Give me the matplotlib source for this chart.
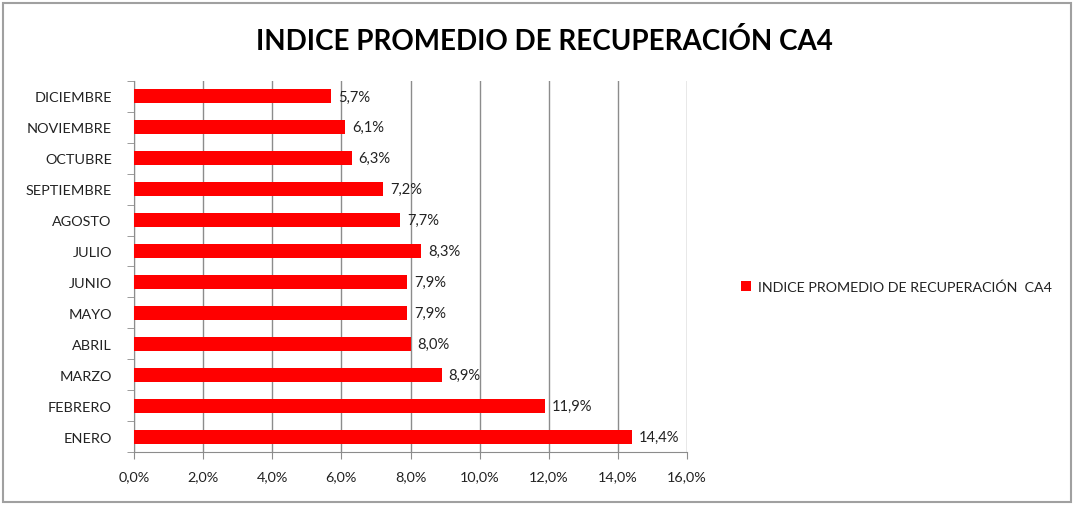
import matplotlib.pyplot as plt
from matplotlib.patches import Rectangle
from matplotlib.ticker import FuncFormatter

months = ['ENERO', 'FEBRERO', 'MARZO', 'ABRIL', 'MAYO', 'JUNIO', 'JULIO',
          'AGOSTO', 'SEPTIEMBRE', 'OCTUBRE', 'NOVIEMBRE', 'DICIEMBRE']
values = [14.4, 11.9, 8.9, 8.0, 7.9, 7.9, 8.3, 7.7, 7.2, 6.3, 6.1, 5.7]
series_name = 'INDICE PROMEDIO DE RECUPERACIÓN  CA4'
title = 'INDICE PROMEDIO DE RECUPERACIÓN CA4'

plt.rcParams['font.family'] = ['Lato', 'DejaVu Sans']

fig = plt.figure(figsize=(10.74, 5.06), dpi=100)
ax = fig.add_axes([0.1248, 0.1047, 0.5149, 0.7333])

bars = ax.barh(range(len(months)), values, height=0.45, color='#ff0000',
               label=series_name, zorder=3)
ax.set_yticks(range(len(months)))
ax.set_yticklabels(months)
ax.set_ylim(-0.5, len(months) - 0.5)
ax.set_xlim(0, 16)
ax.set_xticks(range(0, 17, 2))
ax.xaxis.set_major_formatter(FuncFormatter(lambda v, p: f'{v:.1f}%'.replace('.', ',')))

for b, v in zip(bars, values):
    ax.text(v + 0.2, b.get_y() + b.get_height() / 2, f'{v:.1f}%'.replace('.', ','),
            va='center', ha='left', fontsize=10.6, color='#222222')

ax.grid(axis='x', color='#8c8c8c', linewidth=1, zorder=0)
for s in ['top', 'right']:
    ax.spines[s].set_visible(False)
for s in ['left', 'bottom']:
    ax.spines[s].set_color('#8c8c8c')
ax.tick_params(axis='both', colors='#8c8c8c', labelcolor='#222222', labelsize=10.4,
               length=5, direction='out')
ax.set_yticks([i - 0.5 for i in range(len(months) + 1)], minor=True)
ax.tick_params(axis='y', which='major', length=0, pad=16)
ax.tick_params(axis='y', which='minor', length=5, color='#8c8c8c')
ax.tick_params(axis='x', pad=8)

fig.suptitle(title, x=0.507, y=0.945, fontsize=20, fontweight='bold')
fig.legend(loc='center left', bbox_to_anchor=(0.678, 0.432), frameon=False,
           fontsize=10.3, handlelength=0.7, handleheight=0.7, handletextpad=0.5,
           labelcolor='#222222')

fig.patches.append(Rectangle((0.003, 0.006), 0.994, 0.986, transform=fig.transFigure,
                             fill=False, edgecolor='#a0a0a0', linewidth=1.5))

plt.savefig('out.png', dpi=100)
